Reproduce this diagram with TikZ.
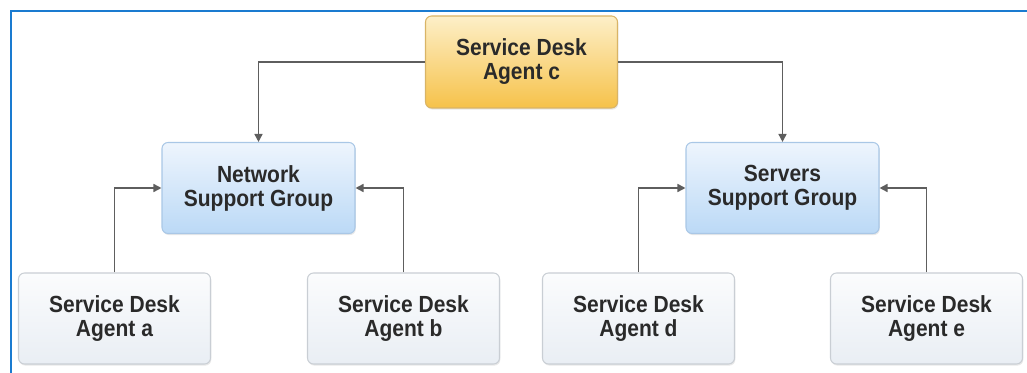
\documentclass[tikz,border=0pt]{standalone}
\usepackage{fontspec}
\setmainfont{Liberation Sans}[FakeStretch=0.9]
\usetikzlibrary{arrows.meta,shadows}
\definecolor{frameblue}{HTML}{1A7BD0}
\definecolor{linegray}{HTML}{5E5E5E}
\definecolor{txt}{HTML}{2A2A2A}
\definecolor{orTop}{HTML}{FDEFC8}
\definecolor{orBot}{HTML}{F6C24A}
\definecolor{orLine}{HTML}{D9B466}
\definecolor{blTop}{HTML}{EEF5FD}
\definecolor{blBot}{HTML}{BBD9F6}
\definecolor{blLine}{HTML}{A9C7E6}
\definecolor{gyTop}{HTML}{FBFCFD}
\definecolor{gyBot}{HTML}{E9EEF4}
\definecolor{gyLine}{HTML}{C9CED4}
\tikzset{
  box/.style={rounded corners=4.5pt, align=center, text=txt,
    font=\fontsize{17.5}{18}\selectfont\bfseries, line width=0.8pt,
    drop shadow={shadow xshift=0.6pt, shadow yshift=-1.2pt, opacity=0.18}},
  headbox/.style={box, draw=orLine, top color=orTop, bottom color=orBot,
    minimum width=144pt, minimum height=69pt},
  groupbox/.style={box, draw=blLine, top color=blTop, bottom color=blBot,
    minimum width=144.75pt, minimum height=68.25pt},
  agentbox/.style={box, draw=gyLine, top color=gyTop, bottom color=gyBot,
    minimum width=144pt, minimum height=68.25pt},
  link/.style={draw=linegray, line width=1.2pt,
    -{Triangle[length=6pt,width=6pt]}}
}
\begin{document}
\begin{tikzpicture}[x=0.75pt,y=-0.75pt]
  \useasboundingbox (0,0) rectangle (1027,373);
  % outer frame: top and left edges
  \draw[frameblue, line width=2pt] (11,373) -- (11,11) -- (1027,11);

  % nodes
  \node[headbox]  (c)   at (521.5,62)  {Service Desk\\Agent c};
  \node[groupbox] (nsg) at (258.5,188) {Network\\Support Group};
  \node[groupbox] (ssg) at (782.5,188) {Servers\\Support Group};
  \node[agentbox] (a)   at (114.5,318.5) {Service Desk\\Agent a};
  \node[agentbox] (b)   at (403.5,318.5) {Service Desk\\Agent b};
  \node[agentbox] (d)   at (638.5,318.5) {Service Desk\\Agent d};
  \node[agentbox] (e)   at (926.5,318.5) {Service Desk\\Agent e};

  % connectors
  \draw[link] (c.west) -| (nsg.north);
  \draw[link] (c.east) -| (ssg.north);
  \draw[link] (a.north) |- (nsg.west);
  \draw[link] (b.north) |- (nsg.east);
  \draw[link] (d.north) |- (ssg.west);
  \draw[link] (e.north) |- (ssg.east);
\end{tikzpicture}
\end{document}
